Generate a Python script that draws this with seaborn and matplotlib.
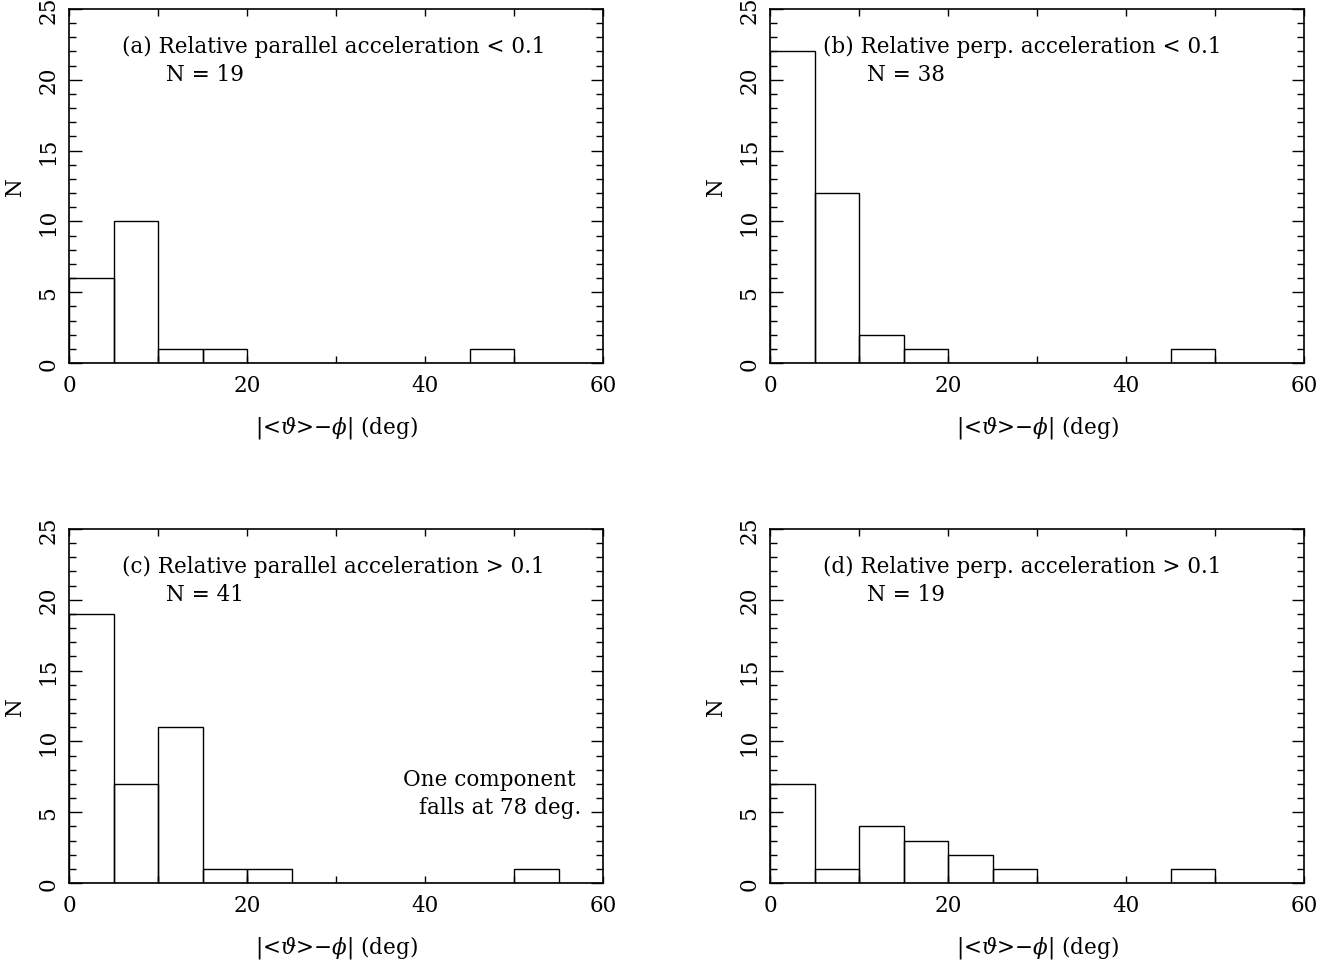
import numpy as np
import pandas as pd
import seaborn as sns
import matplotlib.pyplot as plt
from matplotlib.ticker import MultipleLocator

# bins of 5 deg from 0 to 60
bin_edges = np.arange(0, 65, 5)
bin_centers = bin_edges[:-1] + 2.5

counts_a = [6, 10, 1, 1, 0, 0, 0, 0, 0, 1, 0, 0]
counts_b = [22, 12, 2, 1, 0, 0, 0, 0, 0, 1, 0, 0]
counts_c = [19, 7, 11, 1, 1, 0, 0, 0, 0, 0, 1, 0]
counts_d = [7, 1, 4, 3, 2, 1, 0, 0, 0, 1, 0, 0]

titles = ["(a) Relative parallel acceleration < 0.1",
          "(b) Relative perp. acceleration < 0.1",
          "(c) Relative parallel acceleration > 0.1",
          "(d) Relative perp. acceleration > 0.1"]
n_labels = ["N = 19", "N = 38", "N = 41", "N = 19"]

sns.set_style("ticks", {"axes.edgecolor": "black", "text.color": "black",
                        "xtick.color": "black", "ytick.color": "black",
                        "axes.labelcolor": "black"})
plt.rcParams['font.family'] = ['DejaVu Serif']
plt.rcParams['mathtext.fontset'] = 'dejavuserif'

fs = 15.5
fig = plt.figure(figsize=(13.39, 9.62), dpi=100)
W, H = 1339, 962
boxes = [(69, 10), (770, 10), (69, 530), (770, 530)]
aw, ah = 534, 354

all_counts = [counts_a, counts_b, counts_c, counts_d]
for i, (counts, (x0, y0)) in enumerate(zip(all_counts, boxes)):
    ax = fig.add_axes([x0 / W, 1 - (y0 + ah) / H, aw / W, ah / H])
    df = pd.DataFrame({"angle": bin_centers, "n": counts})
    sns.histplot(data=df, x="angle", weights="n", binwidth=5, binrange=(0, 60),
                 fill=False, color='black', linewidth=1.0, ax=ax)
    ax.set_xlim(0, 60)
    ax.set_ylim(0, 25)
    ax.xaxis.set_major_locator(MultipleLocator(20))
    ax.xaxis.set_minor_locator(MultipleLocator(10))
    ax.yaxis.set_major_locator(MultipleLocator(5))
    ax.yaxis.set_minor_locator(MultipleLocator(1))
    ax.tick_params(which='both', direction='in', top=True, right=True,
                   width=1.0, labelsize=fs)
    ax.tick_params(axis='x', which='both', length=5, pad=8)
    ax.tick_params(axis='y', which='major', length=9, pad=7)
    ax.tick_params(axis='y', which='minor', length=5)
    for lab in ax.get_yticklabels():
        lab.set_rotation(90)
        lab.set_va('center')
    for s in ax.spines.values():
        s.set_linewidth(1.2)
    ax.set_xlabel(r"|<$\vartheta$>$-\phi$| (deg)", fontsize=fs, labelpad=12)
    ax.set_ylabel("N", fontsize=fs, labelpad=8)
    ax.text(5.9, 22.4, titles[i], fontsize=fs, va='center', ha='left')
    ax.text(10.9, 20.4, n_labels[i], fontsize=fs, va='center', ha='left')
    if i == 2:
        ax.text(56.9, 7.35, "One component", fontsize=fs, va='center', ha='right')
        ax.text(57.6, 5.4, "falls at 78 deg.", fontsize=fs, va='center', ha='right')

fig.savefig("out.png", dpi=100)
